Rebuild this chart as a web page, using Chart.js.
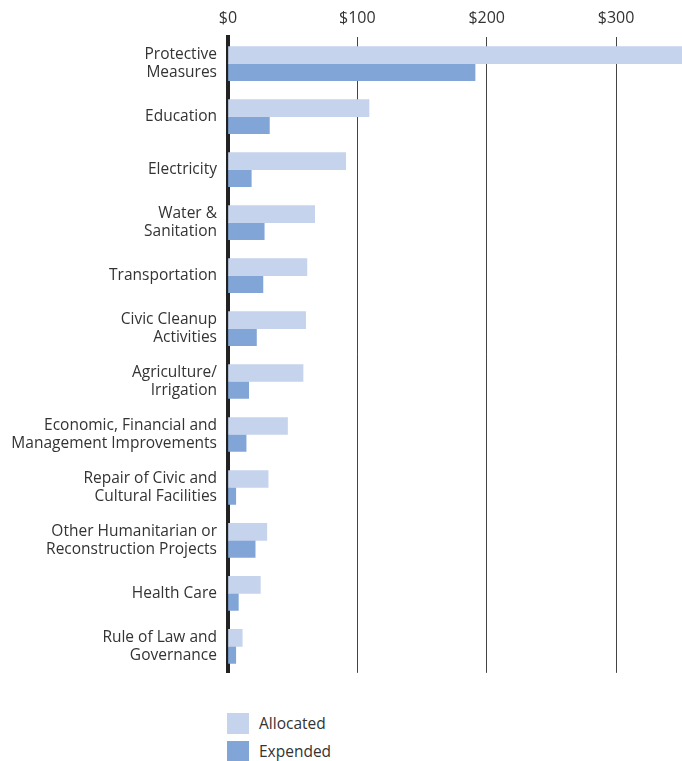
<!DOCTYPE html>
<html>
<head>
<meta charset="utf-8">
<script src="https://cdn.jsdelivr.net/npm/chart.js@4"></script>
<style>
  html, body { margin: 0; padding: 0; background: #fff; }
  #wrap { position: relative; width: 682px; height: 761px; overflow: hidden; }
  #chartBox { position: absolute; left: 0; top: 0; width: 682px; height: 702px; }
  .legend { position: absolute; left: 227px; font-family: 'Open Sans', sans-serif; font-size: 15.5px; color: #333; }
  .legend .row { display: flex; align-items: center; height: 22px; margin-bottom: 6px; }
  .legend .sw { width: 22px; height: 21px; margin-right: 10px; }
</style>
</head>
<body>
<div id="wrap">
  <div id="chartBox"><canvas id="fundChart"></canvas></div>
  <div class="legend" id="legend" style="top:712px"></div>
</div>
<script>
// Categories (multi-line labels)
const categories = [
  ['Protective', 'Measures'],
  'Education',
  'Electricity',
  ['Water &', 'Sanitation'],
  'Transportation',
  ['Civic Cleanup', 'Activities'],
  ['Agriculture/', 'Irrigation'],
  ['Economic, Financial and', 'Management Improvements'],
  ['Repair of Civic and', 'Cultural Facilities'],
  ['Other Humanitarian or', 'Reconstruction Projects'],
  'Health Care',
  ['Rule of Law and', 'Governance']
];

// $ millions
const allocated = [360, 109, 91, 67, 61, 60, 58, 46, 31, 30, 25, 11];
const expended = [191, 32, 18, 28, 27, 22, 16, 14, 6, 21, 8, 6];

const seriesNames = ['Allocated', 'Expended'];
const seriesColors = ['#c5d3ec', '#82a5d7'];

const xTicks = [0, 100, 200, 300];
const xMax = 351;

const FONT = "'Open Sans', sans-serif";

// Build HTML legend (stacked vertically like the original)
const legendEl = document.getElementById('legend');
seriesNames.forEach((name, i) => {
  const row = document.createElement('div');
  row.className = 'row';
  row.innerHTML = '<div class="sw" style="background:' + seriesColors[i] + '"></div><span>' + name + '</span>';
  legendEl.appendChild(row);
});

new Chart(document.getElementById('fundChart'), {
  type: 'bar',
  data: {
    labels: categories,
    datasets: [
      {
        label: seriesNames[0],
        data: allocated,
        backgroundColor: seriesColors[0],
        barThickness: 17,
        categoryPercentage: 0.76,
        barPercentage: 1
      },
      {
        label: seriesNames[1],
        data: expended,
        backgroundColor: seriesColors[1],
        barThickness: 17,
        categoryPercentage: 0.76,
        barPercentage: 1
      }
    ]
  },
  options: {
    indexAxis: 'y',
    responsive: true,
    maintainAspectRatio: false,
    animation: false,
    layout: { padding: { top: 0, right: 0, bottom: 0, left: 0 } },
    plugins: {
      legend: { display: false },
      tooltip: { enabled: false }
    },
    scales: {
      x: {
        position: 'top',
        min: 0,
        max: xMax,
        afterBuildTicks: function(scale) {
          scale.ticks = xTicks.map(v => ({ value: v }));
        },
        border: { display: false },
        grid: {
          drawTicks: false,
          color: ctx => ctx.tick && ctx.tick.value === 0 ? 'rgba(0,0,0,0)' : '#444',
          lineWidth: 1
        },
        ticks: {
          padding: 9,
          color: '#333',
          font: { family: FONT, size: 16 },
          callback: function(value) {
            return '$' + value;
          }
        }
      },
      y: {
        afterFit: function(scale) {
          scale.width = 228;
        },
        border: { display: true, color: '#222', width: 4 },
        grid: { display: false, drawTicks: false },
        ticks: {
          padding: 11,
          color: '#333',
          font: { family: FONT, size: 15.5, lineHeight: 1.17 }
        }
      }
    }
  }
});
</script>
</body>
</html>
